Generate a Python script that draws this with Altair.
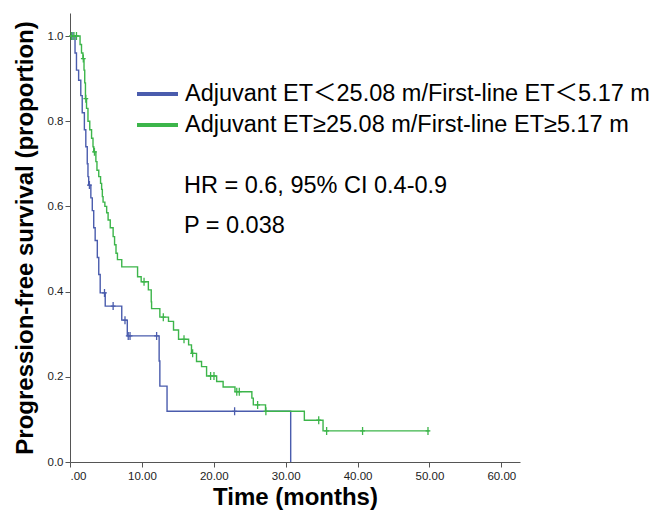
import altair as alt
import pandas as pd

LABEL_LOW = "Adjuvant ET\uff1c25.08 m/First-line ET\uff1c5.17 m"
LABEL_HIGH = "Adjuvant ET\u226525.08 m/First-line ET\u22655.17 m"

# Blue group: step times and survival after each step
blue_t = [0, 0.7, 0.9, 1.2, 1.5, 1.7, 2.0, 2.2, 2.4, 2.5, 2.6, 2.9, 3.1, 3.3, 3.5,
          3.8, 4.0, 4.2, 4.9, 7.2, 7.97, 12.4, 12.5, 13.5, 30.7]
blue_s = [1.0, 0.96, 0.92, 0.896, 0.86, 0.82, 0.78, 0.74, 0.70, 0.67, 0.65, 0.62, 0.59, 0.55, 0.52,
          0.48, 0.44, 0.397, 0.366, 0.333, 0.296, 0.237, 0.178, 0.119, 0.0]
blue_cens = [0.4, 2.7, 4.8, 6.0, 7.65, 8.1, 8.35, 12.05, 22.9]

# Green group
green_t = [0, 1.4, 1.6, 1.8, 1.95, 2.05, 2.15, 2.3, 2.5, 2.75, 3.0, 3.2, 3.3, 3.6, 3.75,
           4.0, 4.25, 4.4, 4.5, 4.6, 4.85, 5.1, 5.3, 5.6, 6.0, 6.2, 6.4, 6.6, 7.2, 9.4,
           9.9, 10.9, 11.3, 11.35, 12.5, 13.7, 14.4, 15.1, 16.5, 16.9, 17.6, 18.3, 19.0,
           20.4, 21.3, 22.95, 25.3, 25.5, 27.2, 32.6, 35.2, 50.0]
green_s = [1.0, 0.98, 0.96, 0.947, 0.92, 0.89, 0.853, 0.83, 0.80, 0.78, 0.76, 0.74, 0.728, 0.705, 0.685,
           0.67, 0.654, 0.64, 0.623, 0.61, 0.60, 0.585, 0.568, 0.55, 0.529, 0.51, 0.49, 0.475, 0.458, 0.435,
           0.423, 0.404, 0.376, 0.36, 0.34, 0.33, 0.31, 0.288, 0.275, 0.255, 0.236, 0.224, 0.202,
           0.189, 0.176, 0.165, 0.150, 0.134, 0.119, 0.098, 0.073, 0.073]
green_cens = [0.2, 0.55, 0.9, 1.85, 2.2, 3.4, 10.3, 12.98, 15.86, 17.06, 19.56, 20.03,
              23.2, 23.55, 26.1, 27.25, 34.6, 35.7, 40.7, 49.8]

x_ticks = [0, 10, 20, 30, 40, 50, 60]
y_ticks = [0.0, 0.2, 0.4, 0.6, 0.8, 1.0]

annot_text = ["HR = 0.6, 95% CI 0.4-0.9", "P = 0.038"]
annot_x = [15.85, 15.85]
annot_y = [0.648, 0.554]

COLORS = ["#4a5cad", "#3cb54a"]


def surv_at(ts, ss, t):
    s = ss[0]
    for ti, si in zip(ts, ss):
        if ti <= t:
            s = si
    return s


curve_rows = []
for lab, ts, ss in [(LABEL_LOW, blue_t, blue_s), (LABEL_HIGH, green_t, green_s)]:
    for i, (t, s) in enumerate(zip(ts, ss)):
        curve_rows.append({"group": lab, "t": t, "s": s, "order": i})
curves = pd.DataFrame(curve_rows)

cens_rows = []
for lab, ts, ss, cs in [(LABEL_LOW, blue_t, blue_s, blue_cens), (LABEL_HIGH, green_t, green_s, green_cens)]:
    for c in cs:
        cens_rows.append({"group": lab, "t": c, "s": surv_at(ts, ss, c)})
cens = pd.DataFrame(cens_rows)

annot = pd.DataFrame({"text": annot_text, "t": annot_x, "s": annot_y})

FONT = "Liberation Sans, Noto Sans CJK SC"

xscale = alt.Scale(domain=[0, 62.6], nice=False, zero=False)
yscale = alt.Scale(domain=[0, 1.054], nice=False)
color = alt.Color(
    "group:N",
    scale=alt.Scale(domain=[LABEL_LOW, LABEL_HIGH], range=COLORS),
    legend=alt.Legend(
        title=None,
        orient="none",
        legendX=65,
        legendY=69,
        padding=0,
        symbolType="stroke",
        symbolSize=1681,
        symbolStrokeWidth=4,
        clipHeight=24,
        labelFontSize=23.5,
        labelFont=FONT,
        labelColor="#000000",
        labelLimit=700,
        labelOffset=5,
        rowPadding=7,
    ),
)

x_enc = alt.X(
    "t:Q",
    scale=xscale,
    axis=alt.Axis(
        values=x_ticks,
        labelExpr="datum.value == 0 ? '.00' : format(datum.value, '.2f')",
        title="Time (months)",
    ),
)
y_enc = alt.Y(
    "s:Q",
    scale=yscale,
    axis=alt.Axis(values=y_ticks, format=".1f", title="Progression-free survival (proportion)"),
)

lines = alt.Chart(curves).mark_line(interpolate="step-after", strokeWidth=1.4).encode(
    x=x_enc, y=y_enc, color=color, order="order:Q"
)

marks = alt.Chart(cens).mark_point(
    shape="M0,-1V1M-0.6,0H0.6", size=64, filled=False, strokeWidth=1.3, opacity=1
).encode(x="t:Q", y="s:Q", color=alt.Color("group:N", legend=None))

texts = alt.Chart(annot).mark_text(
    align="left", baseline="middle", fontSize=23.5, font=FONT, color="#000000"
).encode(x="t:Q", y="s:Q", text="text:N")

chart = (
    alt.layer(lines, marks, texts)
    .properties(
        width=450,
        height=449,
        autosize=alt.AutoSizeParams(type="none"),
        padding={"left": 70, "top": 13, "right": 132, "bottom": 52},
        background="#ffffff",
    )
    .configure_view(stroke=None)
    .configure_axis(
        grid=False,
        domainColor="#555555",
        tickColor="#555555",
        tickSize=5,
        labelFont="Liberation Sans",
        labelFontSize=11.5,
        labelColor="#222222",
        titleFont="Liberation Sans",
        titleFontSize=24,
        titleFontWeight="bold",
        titleColor="#000000",
    )
    .configure_axisY(titlePadding=10, labelPadding=2)
    .configure_axisX(titlePadding=4, labelPadding=3)
)

chart.save("out.html", embed_options={"renderer": "svg", "actions": False})
